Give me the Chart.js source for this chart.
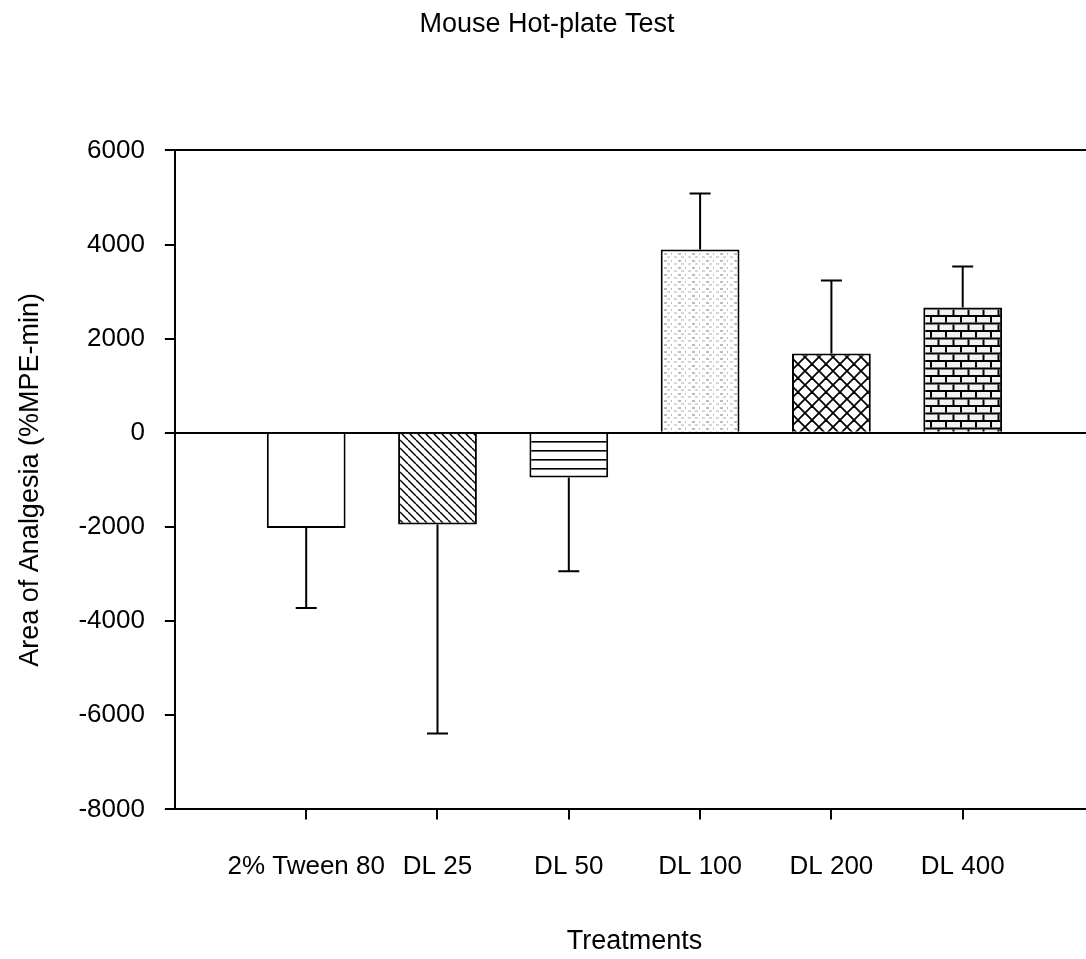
<!DOCTYPE html>
<html>
<head>
<meta charset="utf-8">
<script src="https://cdn.jsdelivr.net/npm/chart.js@4"></script>
<style>
  html, body { margin: 0; padding: 0; background: #fff; overflow: hidden; }
  #wrap { width: 1100px; height: 959px; }
</style>
</head>
<body>
<div id="wrap"><canvas id="myChart" width="1100" height="959"></canvas></div>
<script>
var categories = ["2% Tween 80", "DL 25", "DL 50", "DL 100", "DL 200", "DL 400"];
var means = [-2020, -1945, -950, 3895, 1685, 2665];
var errors = [1700, 4440, 1990, 1190, 1550, 867];
var yTicks = [-8000, -6000, -4000, -2000, 0, 2000, 4000, 6000];

var FONT = "'Liberation Sans', Arial, sans-serif";

// small tiles used as bar fills
function makePattern(w, h, draw) {
  var c = document.createElement("canvas");
  c.width = w;
  c.height = h;
  var g = c.getContext("2d");
  g.fillStyle = "#fff";
  g.fillRect(0, 0, w, h);
  draw(g, w, h);
  return document.getElementById("myChart").getContext("2d").createPattern(c, "repeat");
}

var diagFill = makePattern(8, 8, function (g, w, h) {
  g.strokeStyle = "#000";
  g.lineWidth = 1.4;
  for (var k = -1; k <= 1; k++) {
    g.beginPath();
    g.moveTo(k * w, 0);
    g.lineTo(k * w + w, h);
    g.stroke();
  }
});

var horizFill = makePattern(10, 9.5, function (g, w, h) {
  g.fillStyle = "#000";
  g.fillRect(0, 0, w, 1.6);
});

var dotFill = makePattern(14, 7, function (g) {
  g.fillStyle = "#bdbdbd";
  g.fillRect(6, 1, 3, 2);
  g.fillRect(13, 1, 1, 2);
  g.fillStyle = "#d6d6d6";
  g.fillRect(2, 4, 3, 2);
  g.fillRect(9, 4, 3, 2);
});

var crossFill = makePattern(14, 14, function (g, w, h) {
  g.strokeStyle = "#000";
  g.lineWidth = 1.8;
  for (var k = -1; k <= 1; k++) {
    g.beginPath();
    g.moveTo(k * w, 0);
    g.lineTo(k * w + w, h);
    g.stroke();
    g.beginPath();
    g.moveTo(k * w + w, 0);
    g.lineTo(k * w, h);
    g.stroke();
  }
});

var brickFill = makePattern(15, 15, function (g) {
  g.fillStyle = "#f2f2f2";
  g.fillRect(0, 0, 15, 15);
  g.fillStyle = "#000";
  g.fillRect(0, 0, 15, 2);
  g.fillRect(0, 7.5, 15, 2);
  g.fillRect(0, 2, 2, 5.5);
  g.fillRect(7.5, 9.5, 2, 5.5);
});

var barFills = ["#ffffff", diagFill, horizFill, dotFill, crossFill, brickFill];

var errorBars = {
  id: "errorBars",
  afterDatasetsDraw: function (chart) {
    var ctx = chart.ctx;
    var y = chart.scales.y;
    var meta = chart.getDatasetMeta(0);
    ctx.save();
    ctx.strokeStyle = "#000";
    ctx.lineWidth = 2;
    meta.data.forEach(function (bar, i) {
      var v = means[i];
      var end = v < 0 ? v - errors[i] : v + errors[i];
      var y0 = y.getPixelForValue(v);
      var y1 = y.getPixelForValue(end);
      ctx.beginPath();
      ctx.moveTo(bar.x, y0);
      ctx.lineTo(bar.x, y1);
      ctx.moveTo(bar.x - 10.5, y1);
      ctx.lineTo(bar.x + 10.5, y1);
      ctx.stroke();
    });
    ctx.restore();
  },
};

const ctx = document.getElementById("myChart").getContext("2d");

const myChart = new Chart(ctx, {
  type: "bar",
  data: {
    datasets: [
      {
        data: means.map(function (m, i) {
          return { x: i + 1, y: m };
        }),
        backgroundColor: barFills,
        borderColor: "#000",
        borderWidth: 2,
        borderSkipped: "start",
        barPercentage: 0.6,
        categoryPercentage: 1,
      },
    ],
  },
  options: {
    responsive: false,
    animation: false,
    layout: { padding: { left: 0, right: 6, top: 0, bottom: 1 } },
    plugins: {
      legend: { display: false },
      tooltip: { enabled: false },
      title: {
        display: true,
        text: "Mouse Hot-plate Test",
        color: "#000",
        font: { family: FONT, size: 27, weight: "normal" },
        padding: { top: 8, bottom: 110 },
      },
    },
    scales: {
      x: {
        type: "linear",
        min: 0,
        max: 7,
        offset: false,
        afterBuildTicks: function (scale) {
          scale.ticks = categories.map(function (c, i) {
            return { value: i + 1 };
          });
        },
        ticks: {
          autoSkip: false,
          maxRotation: 0,
          color: "#000",
          padding: 32,
          font: { family: FONT, size: 26 },
          callback: function (v) {
            return categories[v - 1];
          },
        },
        grid: {
          offset: false,
          drawOnChartArea: false,
          color: "#000",
          lineWidth: 2,
          tickLength: 10,
        },
        border: { display: true, color: "#000", width: 2 },
        title: {
          display: true,
          text: "Treatments",
          color: "#000",
          font: { family: FONT, size: 27 },
          padding: { top: 11, bottom: 0 },
        },
      },
      y: {
        min: -8000,
        max: 6000,
        afterBuildTicks: function (scale) {
          scale.ticks = yTicks.map(function (t) {
            return { value: t };
          });
        },
        ticks: {
          color: "#000",
          padding: 20,
          font: { family: FONT, size: 26 },
          callback: function (v) {
            return String(v);
          },
        },
        grid: {
          drawOnChartArea: true,
          color: function (c) {
            return c.tick && (c.tick.value === 0 || c.tick.value === 6000) ? "#000" : "rgba(0,0,0,0)";
          },
          tickColor: "#000",
          lineWidth: 2,
          tickLength: 10,
        },
        border: { display: true, color: "#000", width: 2 },
        title: {
          display: true,
          text: "Area of Analgesia (%MPE-min)",
          color: "#000",
          font: { family: FONT, size: 27 },
          padding: { top: 14, bottom: 12 },
        },
      },
    },
  },
  plugins: [errorBars],
});
</script>
</body>
</html>
